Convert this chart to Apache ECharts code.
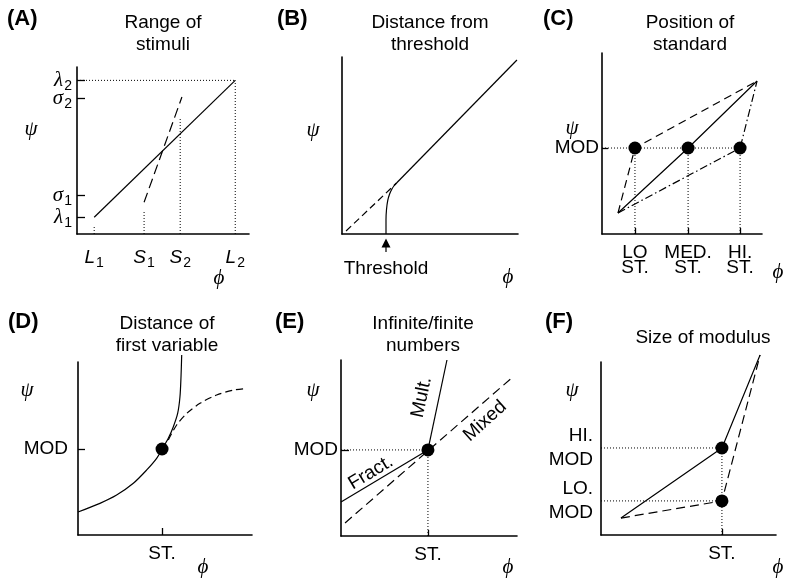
<!DOCTYPE html>
<html><head><meta charset="utf-8">
<script src="https://cdn.jsdelivr.net/npm/echarts@6/dist/echarts.min.js"></script>
<style>html,body{margin:0;padding:0;background:#fff}#c{width:788px;height:578px}</style>
</head><body><div id="c"></div>
<script>
// ---------- Panel A: Range of stimuli ----------
const aXTickValues = [10, 39, 60, 92];
const aXTickLabels = ['{i|L}{s|1}', '{i|S}{s|1}', '{i|S}{s|2}', '{i|L}{s|2}'];
const aLambdaValues = [10, 92];
const aLambdaLabels = ['{g|λ}{s|1}', '{g|λ}{s|2}'];
const aSigmaValues = [23, 81];
const aSigmaLabels = ['{g|σ}{s|1}', '{g|σ}{s|2}'];
const aSolid = [[10, 10], [92, 92]];
const aDashed = [[39, 19], [61, 82]];
const aDotL1 = [[10, 0], [10, 5]];
const aDotS1 = [[39, 0], [39, 14]];
const aDotS2 = [[60, 0], [60, 69]];
const aDotL2 = [[92, 0], [92, 92]];
const aDotLam2 = [[0, 92], [92, 92]];

// ---------- Panel B: Distance from threshold ----------
const bThreshold = 25;
const bCurve = [[25, 0], [25, 8], [25.3, 14], [26, 19], [27, 22.5], [28.3, 25.3], [29.7, 27.4], [31, 28.8]];
const bStraight = [[31, 28.8], [99.4, 98.3]];
const bDashed = [[2.3, 1.7], [31, 28.8]];
const bArrowStem = [[25, -10.2], [25, -5]];
const bArrowHead = [[25, -5.1]];

// ---------- Panel C: Position of standard ----------
const cStdValues = [20.6, 53.8, 86.3];
const cStdLabels = ['LO\nST.', 'MED.\nST.', 'HI.\nST.'];
const cMod = 47.5;
const cSolid = [[10, 11.6], [53.8, 47.5], [96.9, 84.5]];
const cDashed = [[10, 11.6], [20.6, 47.5], [96.9, 84.5]];
const cDashDot = [[10, 11.6], [86.3, 47.5], [96.9, 84.5]];
const cPoints = [[20.6, 47.5], [53.8, 47.5], [86.3, 47.5]];

// ---------- Panel D: Distance of first variable ----------
const dSt = 48.3, dMod = 49.7;
const dSolid = [[0, 13.3], [12.6, 18.3], [22.2, 23.1], [31.8, 29.9], [39.5, 37.6], [45.2, 44.3], [48.4, 49.7],
  [51.9, 55.9], [54.8, 62.6], [57.3, 70.4], [58.6, 79.9], [59.2, 91.5], [59.6, 104]];
const dDashed = [[51.9, 54.9], [56.7, 63.6], [62.5, 70.3], [70.1, 76.1], [79.7, 80.9], [89.3, 83.8], [96, 84.6]];
const dPoint = [[48.3, 49.7]];

// ---------- Panel E: Infinite/finite numbers ----------
const eSt = 49.4, eMod = 48.9;
const eMult = [[49.4, 48.9], [60.2, 100]];
const eFract = [[0, 19.3], [49.4, 48.9]];
const eMixed = [[2.3, 7.4], [97, 89.8]];
const ePoint = [[49.4, 48.9]];
const eLabels = [
  { name: 'Mult.', value: [45.8, 78.8], rot: 78 },
  { name: 'Mixed', value: [81.8, 65.3], rot: 42 },
  { name: 'Fract.', value: [16.9, 36.0], rot: 31 }
];

// ---------- Panel F: Size of modulus ----------
const fSt = 69.1, fHi = 50.3, fLo = 19.7;
const fModValues = [19.7, 50.3];
const fModLabels = ['LO.\nMOD', 'HI.\nMOD'];
const fSolid = [[11.4, 9.8], [69.1, 50.3], [90.9, 104]];
const fDashed = [[11.4, 9.8], [69.1, 19.7], [90.9, 104]];
const fPoints = [[69.1, 50.3], [69.1, 19.7]];

// ---------- styling ----------
const SANS = 'Liberation Sans, Arial, Helvetica, sans-serif';
const SERIF = 'Liberation Serif, Times New Roman, serif';
const FS = 19;

const grids = [
  { left: 77, top: 67, width: 172, height: 167 },
  { left: 342, top: 57, width: 176, height: 177 },
  { left: 602, top: 53, width: 160, height: 181 },
  { left: 78, top: 362, width: 174, height: 173 },
  { left: 341, top: 360, width: 176, height: 176 },
  { left: 601, top: 362, width: 175, height: 173 }
];

function axis(i, extra) {
  const base = {
    type: 'value', gridIndex: i, min: 0, max: 100,
    axisLine: { show: true, onZero: false, lineStyle: { color: '#000', width: 1.6 } },
    axisTick: { show: false },
    axisLabel: { show: false },
    splitLine: { show: false }
  };
  return Object.assign(base, extra || {});
}
function ticks(values, len) {
  return { show: true, inside: true, length: len, customValues: values, lineStyle: { color: '#000', width: 1.3 } };
}
function labels(values, texts, margin, more) {
  return Object.assign({
    show: true, customValues: values, margin: margin, color: '#000', hideOverlap: false, interval: 0,
    showMinLabel: true, showMaxLabel: true,
    fontFamily: SANS, fontSize: FS,
    formatter: v => { const k = values.indexOf(v); return k >= 0 ? texts[k] : ''; }
  }, more || {});
}

const richSub = {
  i: { fontFamily: SANS, fontStyle: 'italic', fontSize: FS, color: '#000' },
  g: { fontFamily: SERIF, fontStyle: 'italic', fontSize: 21, color: '#000' },
  s: { fontFamily: SANS, fontSize: 14, color: '#000', padding: [11, 0, 0, 1] }
};

const xAxes = [
  axis(0, { axisLabel: labels(aXTickValues, aXTickLabels, 11, { rich: richSub }) }),
  axis(1, { axisLabel: labels([bThreshold], ['Threshold'], 25) }),
  axis(2, { axisTick: ticks(cStdValues, 6), axisLabel: labels(cStdValues, cStdLabels, 11, { lineHeight: 15 }) }),
  axis(3, { axisTick: ticks([dSt], 7), axisLabel: labels([dSt], ['ST.'], 9, { lineHeight: 19 }) }),
  axis(4, { axisTick: ticks([eSt], 6), axisLabel: labels([eSt], ['ST.'], 9, { lineHeight: 19 }) }),
  axis(5, { axisTick: ticks([fSt], 6), axisLabel: labels([fSt], ['ST.'], 9, { lineHeight: 19 }) })
];
const yAxes = [
  axis(0, { axisTick: ticks(aLambdaValues, 8), axisLabel: labels(aLambdaValues, aLambdaLabels, 5, { rich: richSub }) }),
  axis(1),
  axis(2, { axisTick: ticks([cMod], 6), axisLabel: labels([cMod], ['MOD'], 3) }),
  axis(3, { axisTick: ticks([dMod], 7), axisLabel: labels([dMod], ['MOD'], 10) }),
  axis(4, { axisTick: ticks([eMod], 8), axisLabel: labels([eMod], ['MOD'], 3) }),
  axis(5, { axisLabel: labels(fModValues, fModLabels, 8, { lineHeight: 24, align: 'right' }) }),
  // second y axis for panel A carrying the sigma ticks
  axis(0, { position: 'left', offset: 0, axisLine: { show: false },
    axisTick: ticks(aSigmaValues, 8), axisLabel: labels(aSigmaValues, aSigmaLabels, 5, { rich: richSub }) })
];

const SOLID = { type: 'solid' };
const DOTTED = { type: [1, 2], width: 1 };
const DASH_LONG = { type: [10, 5] };
const DASH = { type: [7, 4] };
const DASHDOT = { type: [8, 3, 1.5, 3] };

function line(i, data, style, extra) {
  return Object.assign({
    type: 'line', xAxisIndex: i, yAxisIndex: i, data: data, symbol: 'none', clip: false, silent: true,
    animation: false, lineStyle: Object.assign({ color: '#000', width: 1.2 }, style)
  }, extra || {});
}
function dots(i, data, size) {
  return { type: 'scatter', xAxisIndex: i, yAxisIndex: i, data: data, symbolSize: size || 13, clip: false,
    silent: true, animation: false, itemStyle: { color: '#000', opacity: 1 }, z: 5 };
}

const series = [
  // A
  line(0, aSolid, SOLID), line(0, aDashed, DASH_LONG),
  line(0, aDotL1, DOTTED), line(0, aDotS1, DOTTED), line(0, aDotS2, DOTTED),
  line(0, aDotL2, DOTTED), line(0, aDotLam2, DOTTED),
  // B
  line(1, bCurve, SOLID, { smooth: 0.3 }), line(1, bStraight, SOLID), line(1, bDashed, DASH),
  line(1, bArrowStem, SOLID),
  { type: 'scatter', xAxisIndex: 1, yAxisIndex: 1, data: bArrowHead, symbol: 'triangle', symbolSize: [9, 9],
    clip: false, silent: true, animation: false, itemStyle: { color: '#000', opacity: 1 } },
  // C
  line(2, [[0, cMod], [cStdValues[2], cMod]], DOTTED),
  ...cStdValues.map(x => line(2, [[x, 0], [x, cMod]], DOTTED)),
  line(2, cSolid, SOLID), line(2, cDashed, { type: [8, 5] }), line(2, cDashDot, DASHDOT),
  dots(2, cPoints),
  // D
  line(3, dSolid, SOLID, { smooth: 0.3 }), line(3, dDashed, DASH, { smooth: 0.3 }),
  dots(3, dPoint),
  // E
  line(4, [[0, eMod], [eSt, eMod]], DOTTED), line(4, [[eSt, 0], [eSt, eMod]], DOTTED),
  line(4, eMult, SOLID), line(4, eFract, SOLID), line(4, eMixed, { type: [9, 5] }),
  dots(4, ePoint),
  { type: 'scatter', xAxisIndex: 4, yAxisIndex: 4, symbolSize: 0, silent: true, animation: false,
    itemStyle: { opacity: 1 },
    data: eLabels.map(d => ({ name: d.name, value: d.value, label: { rotate: d.rot } })),
    label: { show: true, position: 'inside', formatter: p => p.name, color: '#000', opacity: 1,
      fontFamily: SANS, fontSize: FS } },
  // F
  line(5, [[0, fHi], [fSt, fHi]], DOTTED), line(5, [[0, fLo], [fSt, fLo]], DOTTED),
  line(5, [[fSt, 0], [fSt, fHi]], DOTTED),
  line(5, fSolid, SOLID), line(5, fDashed, { type: [9, 5] }),
  dots(5, fPoints)
];

function txt(x, y, text, o) {
  o = o || {};
  return { type: 'text', x: x, y: y, silent: true, style: {
    text: text, fill: '#000', fontFamily: o.family || SANS, fontSize: o.size || FS,
    fontWeight: o.weight || 'normal', fontStyle: o.style || 'normal',
    align: o.align || 'center', textAlign: o.align || 'center',
    verticalAlign: 'middle', textVerticalAlign: 'middle', lineHeight: o.lh || 22 } };
}
const panelLetters = ['(A)', '(B)', '(C)', '(D)', '(E)', '(F)'];
const panelTitles = ['Range of\nstimuli', 'Distance from\nthreshold', 'Position of\nstandard',
  'Distance of\nfirst variable', 'Infinite/finite\nnumbers', 'Size of modulus'];
const letterPos = [[7, 19], [277, 19], [543, 19], [8, 322], [275, 322], [545, 322]];
const titlePos = [[163, 34], [430, 34], [690, 34], [167, 335], [423, 335], [703, 338]];
const psiPos = [[31, 129], [313, 130], [572, 128], [27, 390], [313, 390], [572, 390]];
const phiPos = [[219, 278], [508, 277], [778, 272], [203, 567], [508, 567], [778, 567]];

const graphic = [];
panelLetters.forEach((t, k) => graphic.push(txt(letterPos[k][0], letterPos[k][1], t, { align: 'left', weight: 'bold', size: 22 })));
panelTitles.forEach((t, k) => graphic.push(txt(titlePos[k][0], titlePos[k][1], t)));
psiPos.forEach(p => graphic.push(txt(p[0], p[1], 'ψ', { family: SERIF, style: 'italic', size: 21 })));
phiPos.forEach(p => graphic.push(txt(p[0], p[1], 'ϕ', { family: SERIF, style: 'italic', size: 21 })));

const chart = echarts.init(document.getElementById('c'), null, { renderer: 'canvas' });
chart.setOption({
  animation: false,
  backgroundColor: '#fff',
  grid: grids,
  xAxis: xAxes,
  yAxis: yAxes,
  series: series,
  graphic: graphic
});
</script></body></html>
